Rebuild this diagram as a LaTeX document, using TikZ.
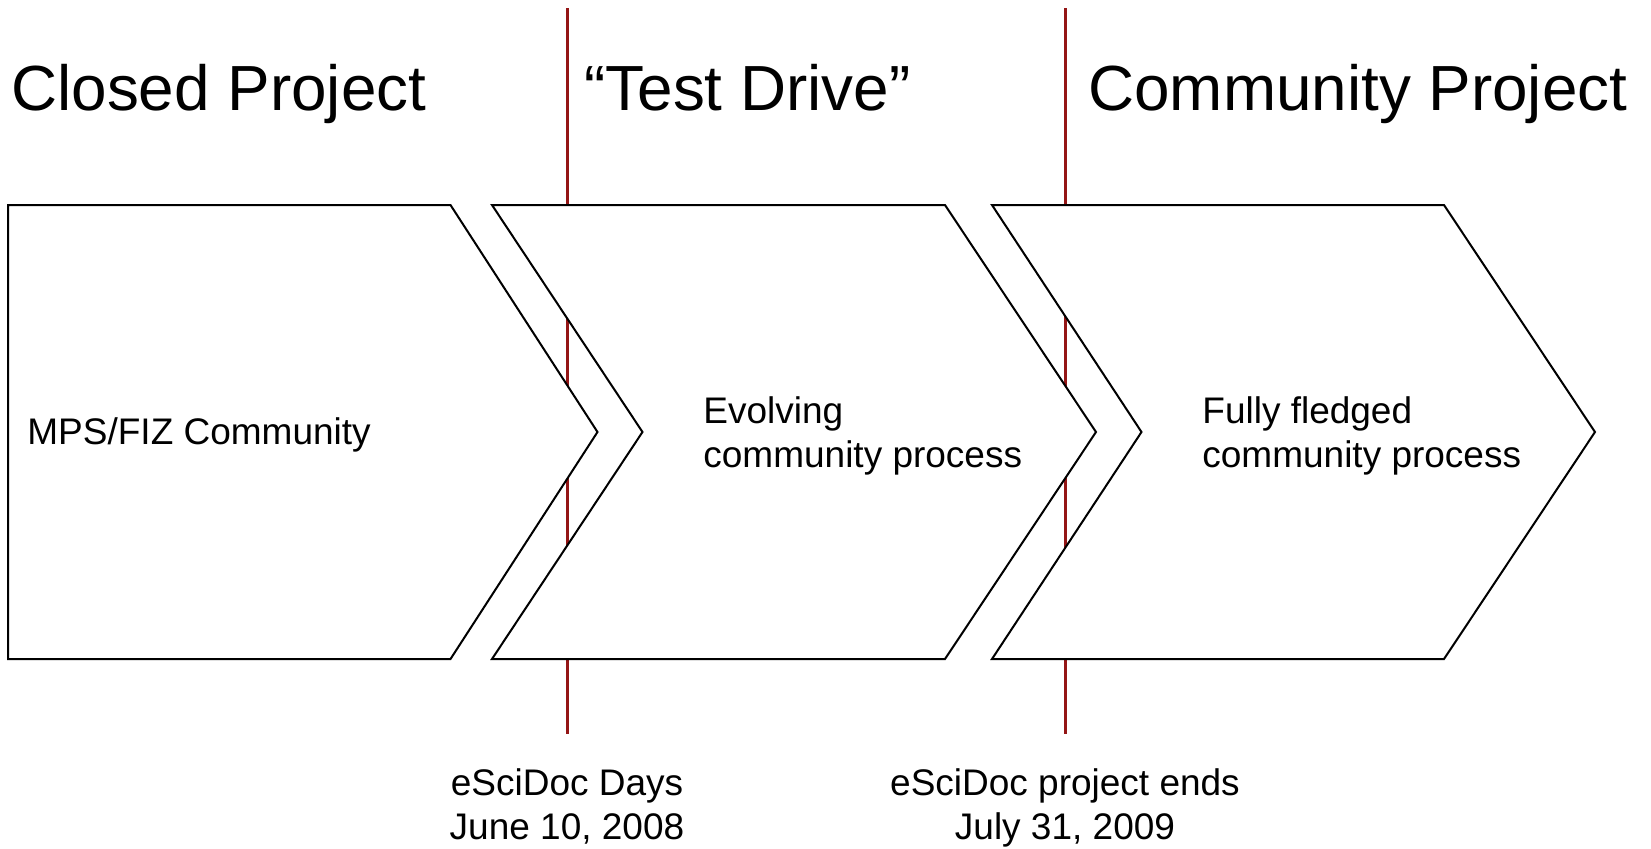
\documentclass[tikz,border=0pt]{standalone}
\usepackage{fontspec}
\setmainfont{Liberation Sans}
\usepackage{tikz}
\usetikzlibrary{positioning,calc}
\usepackage{xcolor}
\definecolor{milered}{RGB}{148,22,22}

\begin{document}
\begin{tikzpicture}[x=0.5pt, y=-0.5pt,
    phasetitle/.style={font=\fontsize{31.9}{38}\selectfont, inner sep=0pt, anchor=base west},
    boxtext/.style={font=\fontsize{18.5}{21.7}\selectfont, inner sep=0pt, anchor=base west, align=left},
    datetext/.style={font=\fontsize{18.5}{21.7}\selectfont, inner sep=0pt, anchor=base, align=center},
    chevron/.style={fill=white, draw=black, line width=1pt, line join=miter},
    milestone/.style={milered, line width=1.5pt}]
\useasboundingbox (0,0) rectangle (1651,848);

% Milestone lines (behind the chevrons)
\coordinate (daystop) at (567,8);
\coordinate (daysbot) at (567,734);
\coordinate (endtop) at (1065,8);
\coordinate (endbot) at (1065,734);
\draw[milestone] (daystop) -- (daysbot);
\draw[milestone] (endtop) -- (endbot);

% Phase chevrons
\draw[chevron] (8,205) -- (450.5,205) -- (597.5,432) -- (450.5,659) -- (8,659) -- cycle;
\draw[chevron] (492,205) -- (945,205) -- (1096,432) -- (945,659) -- (492,659) -- (642.5,432) -- cycle;
\draw[chevron] (992,205) -- (1444,205) -- (1595,432) -- (1444,659) -- (992,659) -- (1141.5,432) -- cycle;

% Phase titles
\node[phasetitle] (closed) at (11,110.7) {Closed Project};
\node[phasetitle] (testdrive) at (584,110.7) {“Test Drive”};
\node[phasetitle] (community) at (1088,110.7) {Community Project};

% Chevron texts (base = last line)
\node[boxtext] (mpsfiz) at (27,444.5) {MPS/FIZ Community};
\node[boxtext] (evolving) at (703,467) {Evolving\\community process};
\node[boxtext] (fledged) at (1202,467) {Fully fledged\\community process};

% Milestone dates
\node[datetext] (days) at (567,839) {eSciDoc Days\\June 10, 2008};
\node[datetext] (ends) at (1065,839) {eSciDoc project ends\\July 31, 2009};

\end{tikzpicture}
\end{document}
